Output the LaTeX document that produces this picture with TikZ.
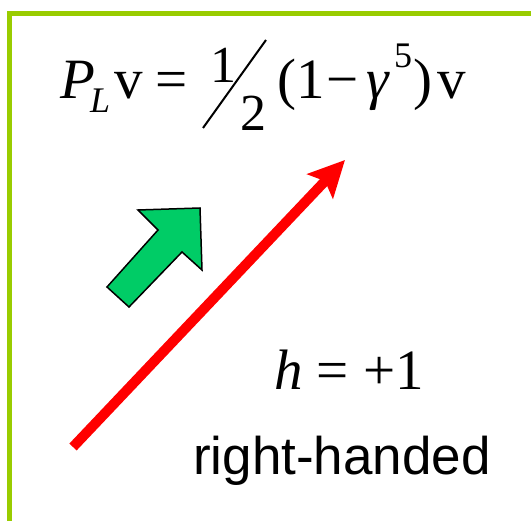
\documentclass[tikz,border=0pt]{standalone}
\usepackage{fontspec}
\setmainfont{Liberation Sans}
\newfontfamily\eqfont{Liberation Serif}
\usetikzlibrary{arrows.meta}

\definecolor{framegreen}{HTML}{99CC00}
\definecolor{arrowgreen}{HTML}{00CC66}

\tikzset{
  eq/.style={font=\eqfont\fontsize{57}{62}\selectfont, inner sep=0pt, anchor=base west},
  eqsmall/.style={font=\eqfont\fontsize{36}{40}\selectfont, inner sep=0pt, anchor=base west},
  eqfrac/.style={font=\eqfont\fontsize{52}{56}\selectfont, inner sep=0pt, anchor=base west},
  label/.style={font=\fontsize{53}{56}\selectfont, inner sep=0pt, anchor=base west},
}

\begin{document}
\begin{tikzpicture}[x=1pt, y=-1pt]
	\useasboundingbox (0,0) rectangle (531,521);
	
	% Frame
	\draw[framegreen, line width=5pt] (9,521) -- (9,14) -- (531,14);
	
	% Projector
	\node[eq] (pl) at (60,99) {\textit{P}};
	\node[eqsmall] (lsub) at (90,113) {\textit{L}};
	\node[eq] (vin) at (114,99) {v};
	\node[eq] (eqsign) at (155,99) {=};
	\node[eqfrac] (num) at (210,83) {1};
	\draw[line width=2pt] (203,128) -- (266,40);
	\node[eqfrac] (den) at (240,131) {2};
	\node[eq] (paren) at (277,99) {(1\kern2pt−};
	\node[eq] (gam) at (366,99) {\textit{γ}};
	\node[eqsmall] (five) at (394,68) {5};
	\node[eq] (vout) at (413,99) {)\kern5pt v};
	
	% Spin and momentum
	\filldraw[fill=arrowgreen, draw=black, line width=1.5pt, line join=miter]
		(107,287) -- (158,230) -- (138,210) -- (200,208) -- (202,270) -- (182,252) -- (129,307) -- cycle;
	\coordinate (tail) at (73,447);
	\coordinate (tip) at (345,160);
	\draw[red, line width=10pt, -{Stealth[length=36pt, width=35pt, inset=7pt]}] (tail) -- (tip);
	
	% Helicity
	\node[eq] (hel) at (274,390) {\textit{h} = +1};
	\node[label] (hand) at (193,475) {right-handed};
\end{tikzpicture}
\end{document}
